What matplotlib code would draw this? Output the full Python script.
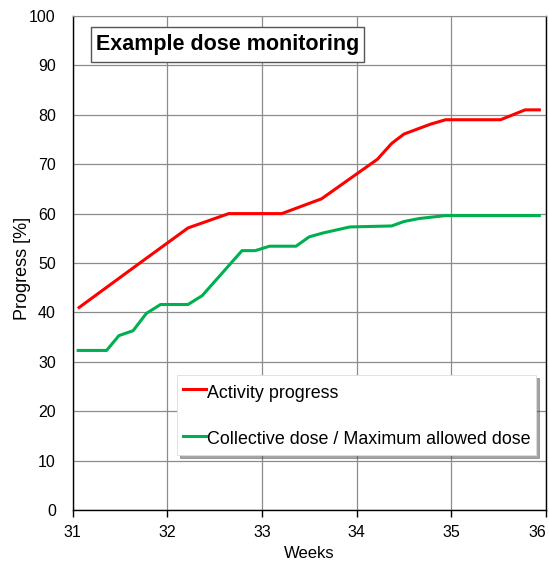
import matplotlib
matplotlib.use('Agg')
import matplotlib.pyplot as plt
from matplotlib.patches import Rectangle

plt.rcParams['font.family'] = ['Liberation Sans', 'DejaVu Sans']

# Activity progress (week, %)
activity_weeks = [31.07, 31.64, 32.22, 32.65, 33.21, 33.63, 34.22, 34.37, 34.50,
                  34.78, 34.94, 35.52, 35.78, 35.93]
activity_pct = [41, 49, 57.1, 60, 60, 63, 71, 74.2, 76.1, 78.1, 79, 79, 81, 81]

# Collective dose / maximum allowed dose (week, %)
dose_weeks = [31.06, 31.36, 31.49, 31.64, 31.78, 31.93, 32.22, 32.37, 32.79, 32.93,
              33.08, 33.36, 33.50, 33.65, 33.93, 34.37, 34.50, 34.66, 34.94, 35.93]
dose_pct = [32.3, 32.3, 35.3, 36.3, 39.8, 41.6, 41.6, 43.4, 52.5, 52.5,
            53.4, 53.4, 55.3, 56.1, 57.3, 57.5, 58.4, 59.0, 59.6, 59.6]

x_ticks = [31, 32, 33, 34, 35, 36]
y_ticks = list(range(0, 101, 10))

fig = plt.figure(figsize=(5.49, 5.64), dpi=100)
ax = fig.add_axes([72.5 / 549, 1 - 510 / 564, 473.5 / 549, 494 / 564])

ax.plot(activity_weeks, activity_pct, color='#ff0000', lw=2.2, label='Activity progress')
ax.plot(dose_weeks, dose_pct, color='#00b050', lw=2.2,
        label='Collective dose / Maximum allowed dose')

ax.set_xlim(31, 36)
ax.set_ylim(0, 100)
ax.set_xticks(x_ticks)
ax.set_yticks(y_ticks)
ax.grid(True, color='#8c8c8c', lw=0.9)
ax.set_axisbelow(True)

for s in ['left', 'bottom', 'right']:
    ax.spines[s].set_color('black')
    ax.spines[s].set_linewidth(1.0)
ax.spines['top'].set_color('#8c8c8c')

ax.tick_params(axis='x', direction='out', length=5, width=1, pad=6, labelsize=11.5)
ax.tick_params(axis='y', direction='in', length=0, pad=12, labelsize=11.5)
ax.tick_params(axis='both', colors='black')
# last week label sits against the edge, pushed inside like the original
ax.get_xticklabels()[-1].set_horizontalalignment('right')

ax.set_xlabel('Weeks', fontsize=12, labelpad=4)
ax.set_ylabel('Progress [%]', fontsize=13)
ax.yaxis.set_label_coords(-0.088, 0.49)

# title box
ax.add_patch(Rectangle((0.0384, 0.9075), 0.5772, 0.0705, transform=ax.transAxes,
                       fc='white', ec='#555555', lw=1, zorder=4))
ax.text(0.327, 0.942, 'Example dose monitoring', transform=ax.transAxes,
        ha='center', va='center', fontsize=15.5, fontweight='bold', zorder=5)

leg = ax.legend(loc='upper left', bbox_to_anchor=(0.221, 0.273), fontsize=12.9,
                handlelength=1.3, handletextpad=0.08, labelspacing=1.3,
                handleheight=1.6, borderpad=0.3, fancybox=False, shadow=True,
                framealpha=1, edgecolor='#dddddd', borderaxespad=0)
leg.get_frame().set_linewidth(0.6)

fig.savefig('out.png', dpi=100)
